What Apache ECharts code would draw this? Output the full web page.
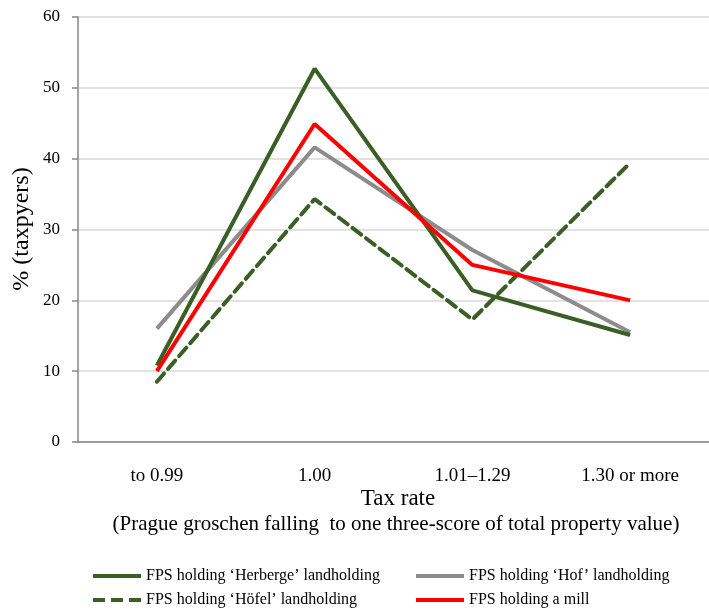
<!DOCTYPE html>
<html>
<head>
<meta charset="utf-8">
<script src="https://cdn.jsdelivr.net/npm/echarts@6/dist/echarts.min.js"></script>
<style>html,body{margin:0;padding:0;background:#fff;}#c{width:709px;height:610px;}</style>
</head>
<body>
<div id="c"></div>
<script>
const categories = ['to 0.99', '1.00', '1.01\u20131.29', '1.30 or more'];
const herberge = [10.8, 52.7, 21.4, 15.1];
const hoefel = [8.5, 34.3, 17.3, 39.4];
const hof = [16.0, 41.6, 27.1, 15.5];
const mill = [10.0, 44.9, 25.0, 20.0];
const seriesNames = [
  'FPS holding \u2018Herberge\u2019 landholding',
  'FPS holding \u2018Hof\u2019 landholding',
  'FPS holding \u2018H\u00f6fel\u2019 landholding',
  'FPS holding a mill'
];
const yTicks = [0, 10, 20, 30, 40, 50, 60];

const FONT = '"Liberation Serif", "Times New Roman", serif';
const GREEN = '#3B5E26';
const GRAY = '#8C8C8C';
const RED = '#FF0000';

const SOLID_ICON = 'path://M0,0h48v4h-48z';
const DASH_ICON = 'path://M0,0h12v4h-12z M18,0h12v4h-12z M36,0h12v4h-12z';

const chart = echarts.init(document.getElementById('c'), null, {renderer: 'canvas'});

function legendAt(name, icon, left, top) {
  return {
    data: [{name: name, icon: icon}], left: left, top: top, orient: 'horizontal',
    itemWidth: 48, itemHeight: 4, padding: 0, selectedMode: false,
    textStyle: {fontFamily: FONT, fontSize: 16, color: '#000'}
  };
}

chart.setOption({
  animation: false,
  backgroundColor: '#fff',
  grid: {left: 78, top: 17, width: 640, bottom: 168, containLabel: false},
  legend: [
    legendAt(seriesNames[0], SOLID_ICON, 93, 568),
    legendAt(seriesNames[1], SOLID_ICON, 416, 568),
    legendAt(seriesNames[2], DASH_ICON, 93, 592),
    legendAt(seriesNames[3], SOLID_ICON, 416, 592)
  ],
  xAxis: {
    type: 'category', data: categories, boundaryGap: true,
    axisLine: {show: true, lineStyle: {color: '#868686', width: 1.5}},
    axisTick: {show: false},
    axisLabel: {fontFamily: FONT, fontSize: 19, color: '#000', margin: 25, interval: 0},
    splitLine: {show: false}
  },
  yAxis: {
    type: 'value', min: yTicks[0], max: yTicks[yTicks.length - 1], interval: 10,
    axisLine: {show: true, lineStyle: {color: '#868686', width: 1.5}},
    axisTick: {show: true, inside: false, length: 6, lineStyle: {color: '#868686', width: 1.5}},
    axisLabel: {fontFamily: FONT, fontSize: 17, color: '#000', margin: 18},
    splitLine: {show: true, lineStyle: {color: '#D9D9D9', width: 1.5}}
  },
  graphic: [
    {type: 'text', x: 22, y: 229, rotation: Math.PI / 2,
      style: {text: '% (taxpyers)', fontFamily: FONT, fontSize: 24, fill: '#000', align: 'center', verticalAlign: 'middle'}},
    {type: 'text', x: 398, y: 499,
      style: {text: 'Tax rate', fontFamily: FONT, fontSize: 23, fill: '#000', align: 'center', verticalAlign: 'middle'}},
    {type: 'text', x: 396, y: 524,
      style: {text: '(Prague groschen falling  to one three-score of total property value)', fontFamily: FONT, fontSize: 21, fill: '#000', align: 'center', verticalAlign: 'middle'}}
  ],
  series: [
    {name: seriesNames[0], type: 'line', data: herberge, symbol: 'none', z: 4,
      lineStyle: {color: GREEN, width: 4}, itemStyle: {color: GREEN}},
    {name: seriesNames[1], type: 'line', data: hof, symbol: 'none', z: 2,
      lineStyle: {color: GRAY, width: 4}, itemStyle: {color: GRAY}},
    {name: seriesNames[2], type: 'line', data: hoefel, symbol: 'none', z: 3,
      lineStyle: {color: GREEN, width: 4, type: [11, 6], cap: 'round'}, itemStyle: {color: GREEN}},
    {name: seriesNames[3], type: 'line', data: mill, symbol: 'none', z: 5,
      lineStyle: {color: RED, width: 4}, itemStyle: {color: RED}}
  ]
});
</script>
</body>
</html>
